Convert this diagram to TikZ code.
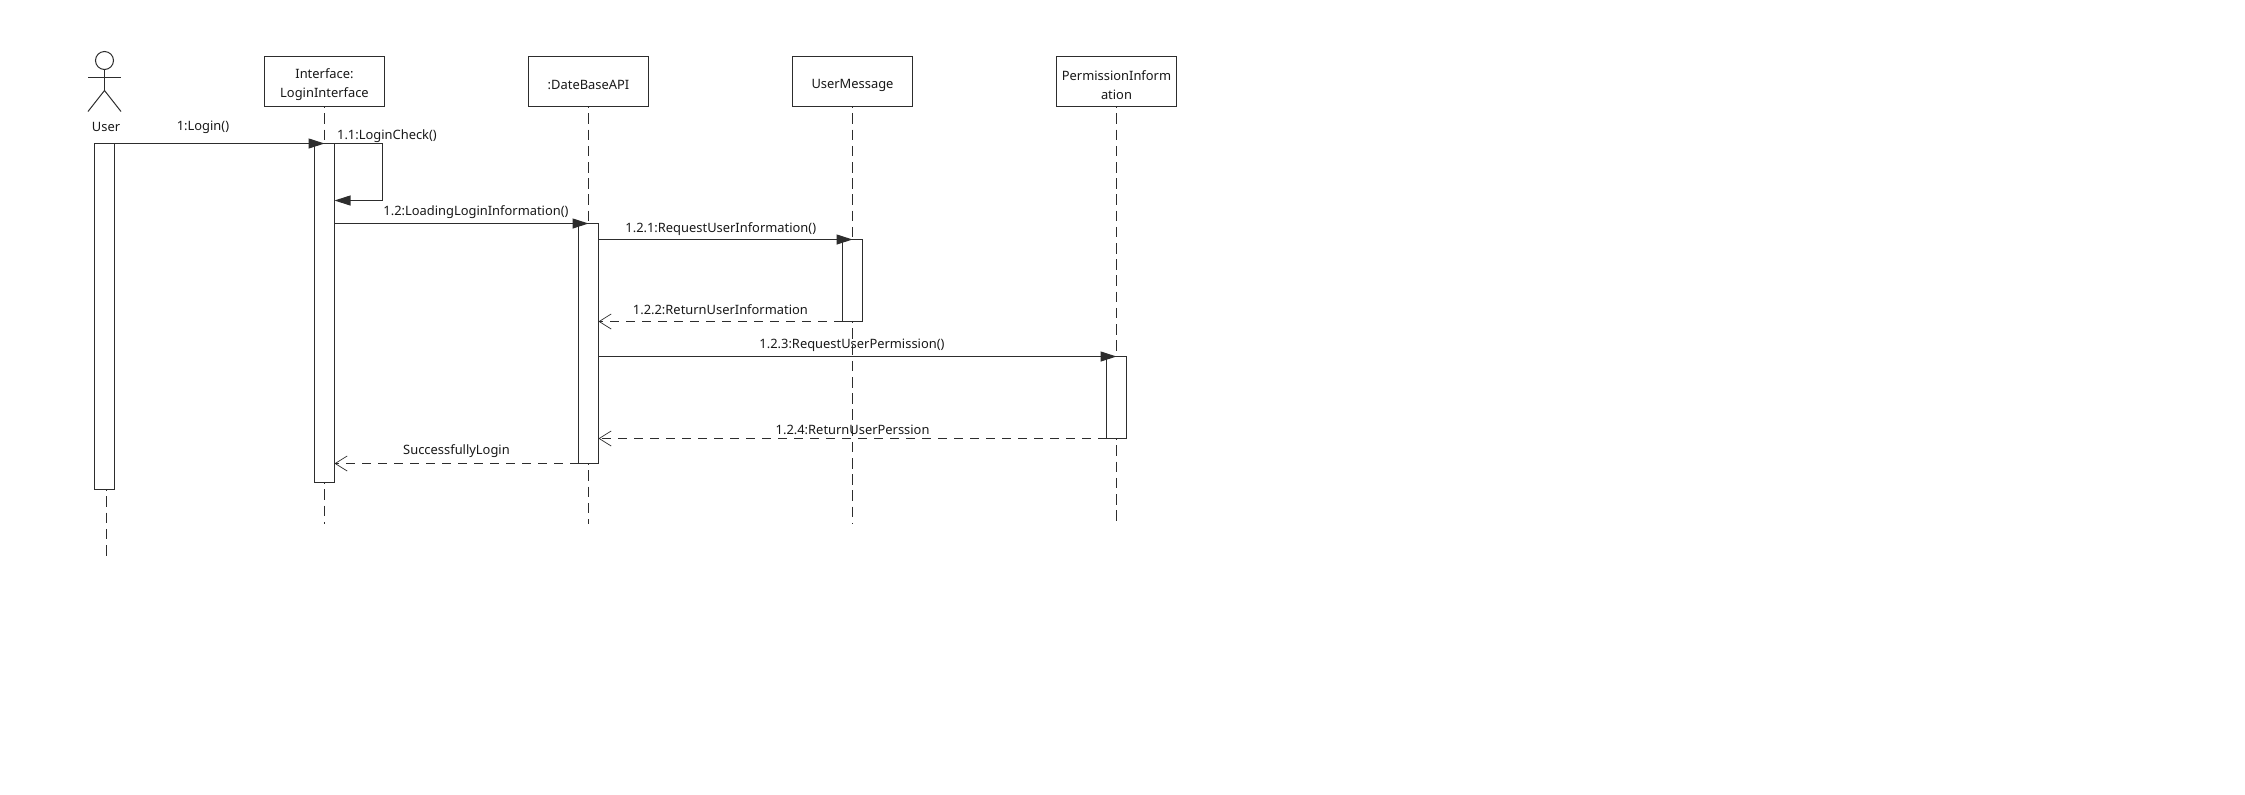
\documentclass[tikz,border=0pt]{standalone}
\usepackage{fontspec}
\setmainfont{Noto Sans}
\usetikzlibrary{
    arrows.meta,
    positioning,
    calc
}
\definecolor{umlline}{RGB}{45,45,45}
\definecolor{umltext}{RGB}{25,25,25}
\tikzstyle{lifebox} = [
    rectangle,
    draw=umlline,
    fill=white,
    line width=0.6pt,
    outer sep=0pt,
    minimum width=60pt,
    minimum height=25pt,
    inner sep=0pt,
    text width=60pt,
    align=center,
    text=umltext,
    font=\fontsize{6.45}{9.5}\selectfont,
    execute at begin node={\vskip -1.4pt}
]
\tikzstyle{bar} = [
    rectangle,
    draw=umlline,
    fill=white,
    line width=0.55pt,
    outer sep=0pt,
    minimum width=10pt,
    inner sep=0pt
]
\tikzstyle{msglabel} = [
    inner sep=0pt,
    text=umltext,
    font=\fontsize{6.45}{8}\selectfont
]
\tikzstyle{stick} = [
    draw=umlline,
    line width=0.5pt
]
\tikzstyle{lifeline} = [
    draw=umlline,
    line width=0.55pt,
    dash pattern=on 5.3pt off 2.8pt,
    dash phase=4.65pt
]
\tikzstyle{call} = [
    -{Triangle[length=8pt,width=5pt]},
    draw=umlline,
    line width=0.55pt
]
\tikzstyle{reply} = [
    -{Straight Barb[length=6pt,width=7.5pt,line width=0.35pt]},
    draw=umlline,
    line width=0.55pt,
    dash pattern=on 4.5pt off 3.5pt
]
\begin{document}
\begin{tikzpicture}[x=0.5pt, y=-0.5pt]
        \useasboundingbox (0, 0) rectangle (2245, 794);

        % Actor
        \node[circle, stick, minimum size=9pt, inner sep=0pt] (head) at (104.5, 60.5) {};
        \coordinate (armleft) at (88, 77.5);
        \coordinate (armright) at (121, 77.5);
        \coordinate (hip) at (104.5, 90.5);
        \coordinate (footleft) at (88, 111.5);
        \coordinate (footright) at (121, 111.5);
        \draw[stick] (head) -- (hip);
        \draw[stick] (armleft) -- (armright);
        \draw[stick] (footleft) -- (hip) -- (footright);
        \node[msglabel] (user) at (106, 126.5) {User};

        % Objects
        \node[lifebox] (iface) at (324.5, 81.5) {Interface:\\LoginInterface};
        \node[lifebox] (dbapi) at (588.5, 81.5) {:DateBaseAPI};
        \node[lifebox] (usermsg) at (852.5, 81.5) {UserMessage};
        \node[lifebox] (perm) at (1116.5, 81.5) {PermissionInform\\ation};

        % Activation bars
        \node[bar, minimum height=173pt] (userbar) at (104.5, 316.5) {};
        \node[bar, minimum height=169.5pt] (ifacebar) at (324.5, 313) {};
        \node[bar, minimum height=120pt] (dbbar) at (588.5, 343.5) {};
        \node[bar, minimum height=41pt] (umbar) at (852.5, 280.5) {};
        \node[bar, minimum height=41pt] (permbar) at (1116.5, 397.5) {};

        % Lifeline ends
        \coordinate (userend) at (106.5, 556);
        \coordinate (ifaceend) at (324.5, 524);
        \coordinate (dbapiend) at (588.5, 524);
        \coordinate (usermsgend) at (852.5, 524);
        \coordinate (permend) at (1116.5, 524);

        % Lifelines
        \draw[lifeline] (userbar.south -| userend) -- (userend);
        \draw[lifeline] (iface) -- (ifacebar.north);
        \draw[lifeline] (ifacebar.south) -- (ifaceend);
        \draw[lifeline] (dbapi) -- (dbbar.north);
        \draw[lifeline] (dbbar.south) -- (dbapiend);
        \draw[lifeline] (usermsg) -- (umbar.north);
        \draw[lifeline] (umbar.south) -- (usermsgend);
        \draw[lifeline] (perm) -- (permbar.north);
        \draw[lifeline] (permbar.south) -- (permend);

        % Self call turns
        \coordinate (selfturn) at (382.5, 143.5);
        \coordinate (selfback) at (382.5, 200.5);

        % Arrows
        \draw[call] (userbar.north west) -- (ifacebar.north);
        \draw[call] (ifacebar.north east) -- (selfturn) -- (selfback) -- (ifacebar.east |- selfback);
        \draw[call] (ifacebar.east |- dbbar.north) -- (dbbar.north);
        \draw[call] (dbbar.east |- umbar.north) -- (umbar.north);
        \draw[reply] (umbar.south west) -- (dbbar.east |- umbar.south);
        \draw[call] (dbbar.east |- permbar.north) -- (permbar.north);
        \draw[reply] (permbar.south west) -- (dbbar.east |- permbar.south);
        \draw[reply] (dbbar.south west) -- (ifacebar.east |- dbbar.south);

        % Labels
        \node[msglabel] (login) at (203, 127) {1:Login()};
        \node[msglabel] (check) at (387, 136) {1.1:LoginCheck()};
        \node[msglabel] (loading) at (476, 212.5) {1.2:LoadingLoginInformation()};
        \node[msglabel] (requser) at (720.8, 229.5) {1.2.1:RequestUserInformation()};
        \node[msglabel] (retuser) at (720.4, 310) {1.2.2:ReturnUserInformation};
        \node[msglabel] (reqperm) at (852, 345) {1.2.3:RequestUserPermission()};
        \node[msglabel] (retperm) at (852.6, 430) {1.2.4:ReturnUserPerssion};
        \node[msglabel] (success) at (456.5, 451.5) {SuccessfullyLogin};
    \end{tikzpicture}
\end{document}
